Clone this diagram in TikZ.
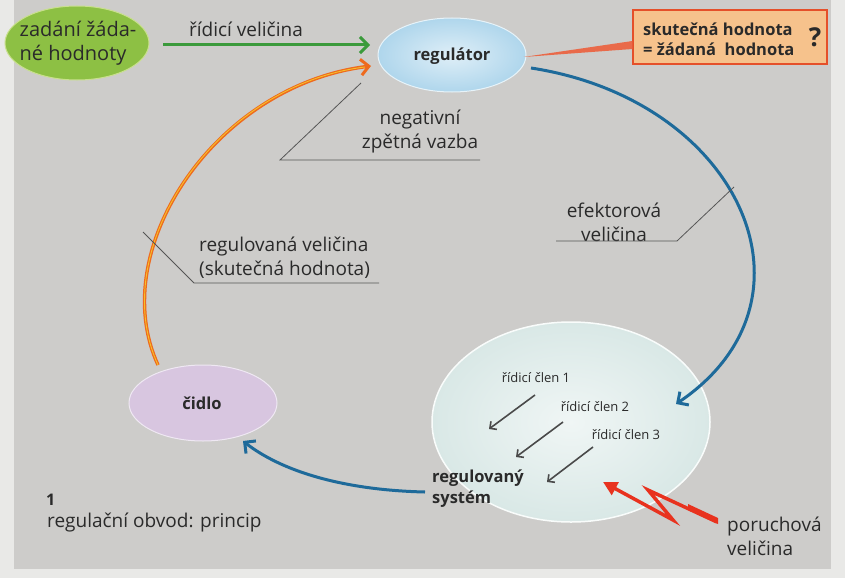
\documentclass[tikz,border=0pt]{standalone}
\usepackage{fontspec}
\setmainfont{Open Sans}
\usetikzlibrary{shapes.geometric,arrows.meta,calc}
\definecolor{bggray}{HTML}{CDCCCA}
\definecolor{bglight}{HTML}{E9E9E7}
\definecolor{txt}{HTML}{2A2A2A}
\definecolor{grn}{HTML}{8DC044}
\definecolor{grnedge}{HTML}{C9E08E}
\definecolor{grnarrow}{HTML}{3B9A3B}
\definecolor{regblue}{HTML}{AFD6EC}
\definecolor{loopblue}{HTML}{1E6A9A}
\definecolor{orng}{HTML}{EE6A1E}
\definecolor{yel}{HTML}{F6C02A}
\definecolor{lav}{HTML}{D8C6E0}
\definecolor{sysfill}{HTML}{D9E8E6}
\definecolor{boxfill}{HTML}{F6C28C}
\definecolor{boxedge}{HTML}{E5502A}
\definecolor{leader}{HTML}{555555}
\definecolor{bolt}{HTML}{E8321E}
\tikzset{
  lbl/.style={text=txt, font=\fontsize{19}{24}\selectfont, inner sep=0pt, align=left},
  blbl/.style={text=txt, font=\bfseries\fontsize{16.5}{20}\selectfont, inner sep=0pt, align=left},
  small/.style={text=txt, font=\fontsize{13}{16}\selectfont, inner sep=0pt},
  oval/.style={ellipse, inner sep=0pt, line width=1pt},
  leadline/.style={draw=leader, line width=0.8pt},
  loop/.style={draw=loopblue, line width=3pt, -{Straight Barb[length=8pt,width=16pt,line width=3pt]}},
}
\begin{document}
\begin{tikzpicture}[x=1pt,y=-1pt]
\useasboundingbox (0,0) rectangle (845,578);
\fill[bglight] (0,0) rectangle (845,578);
\fill[bggray] (14,0) rectangle (831,569);

% ellipses
\node[oval, draw=grnedge, fill=grn, minimum width=144, minimum height=74] (set) at (77,43) {};
\node[text=txt, font=\fontsize{20}{24}\selectfont, align=left, inner sep=0pt] (settxt) at (78,43) {zadání žáda-\\né hodnoty};

\node[oval, draw=white!70!regblue, inner color=white!60!regblue, outer color=regblue, minimum width=148, minimum height=74] (reg) at (452,55) {};
\node[blbl] (regtxt) at (452,56) {regulátor};

\node[oval, draw=white!60!lav, fill=lav, minimum width=148, minimum height=76] (cid) at (203,403) {};
\node[blbl] (cidtxt) at (202,403) {čidlo};

\node[oval, draw=white!85!sysfill, line width=1.5pt, inner color=white!60!sysfill, outer color=sysfill, minimum width=278, minimum height=200] (sys) at (571,422) {};

% box top right
\node[draw=boxedge, fill=boxfill, line width=1.2pt, minimum width=194, minimum height=54, inner sep=0pt] (box) at (730,37) {};
\node[blbl, anchor=west] (boxtxt) at (643,39) {skutečná hodnota\\= žádaná\ \ hodnota};
\node[text=txt, font=\bfseries\fontsize{26}{26}\selectfont, inner sep=0pt] (q) at (815,37) {?};
\fill[boxedge!85!white] (reg.east) ++(-3,2) -- (box.west |- 0,41) -- (box.west |- 0,49) -- cycle;

% green arrow
\coordinate (gs) at (163,45);
\coordinate (ge) at (370,45);
\draw[grnarrow, line width=3pt, -{Straight Barb[length=8pt,width=16pt,line width=3pt]}] (gs) -- (ge);
\node[lbl] (ridici) at (246,29) {řídicí veličina};

% orange feedback arrow
\coordinate (os) at (158,365);
\coordinate (oe) at (371,66);
\draw[orng, line width=3.4pt, -{Straight Barb[length=8pt,width=16pt,line width=3pt]}] (os) .. controls (105,250) and (215,85) .. (oe);
\draw[yel, line width=0.9pt] (os) .. controls (105,250) and (215,85) .. ($(oe)+(-6,1)$);

% blue arrows
\coordinate (bs) at (531,68);
\coordinate (be) at (676,404);
\draw[loop] (bs) .. controls (740,100) and (830,300) .. (be);
\coordinate (cs) at (425,492);
\coordinate (ce) at (243,441);
\draw[loop] (cs) .. controls (340,490) and (280,470) .. (ce);

% leaders
\node[lbl, align=center] (neg) at (420,132) {negativní\\zpětná vazba};
\coordinate (n1) at (361,83);
\coordinate (n2) at (280,160);
\coordinate (n3) at (480,160);
\draw[leadline] (n1) -- (n2) -- (n3);

\node[lbl, align=center] (efe) at (614,222) {efektorová\\veličina};
\coordinate (e1) at (734,187);
\coordinate (e2) at (677,241);
\coordinate (e3) at (556,241);
\draw[leadline] (e1) -- (e2) -- (e3);

\node[lbl, anchor=west] (regvel) at (199,258) {regulovaná veličina\\(skutečná hodnota)};
\coordinate (r1) at (143,232);
\coordinate (r2) at (194,283);
\coordinate (r3) at (379,283);
\draw[leadline] (r1) -- (r2) -- (r3);

% inside system
\node[small] (c1) at (536,378) {řídicí člen 1};
\node[small] (c2) at (595,407) {řídicí člen 2};
\node[small] (c3) at (626,435) {řídicí člen 3};
\coordinate (a1s) at (535,395); \coordinate (a1e) at (489,429);
\coordinate (a2s) at (563,422); \coordinate (a2e) at (516,457);
\coordinate (a3s) at (593,447); \coordinate (a3e) at (547,482);
\foreach \s/\e in {a1s/a1e,a2s/a2e,a3s/a3e}
  \draw[draw=txt!85!white, line width=1.6pt, -{Straight Barb[length=5pt,width=10pt,line width=1.6pt]}] (\s) -- (\e);
\node[blbl, anchor=west, font=\bfseries\fontsize{16.5}{21}\selectfont] (regsys) at (432,489) {regulovaný\\systém};

% disturbance bolt
\coordinate (z0) at (603,482);
\coordinate (z1) at (673,520);
\coordinate (z2) at (648,490);
\coordinate (z3) at (717,522);
\draw[bolt, line width=3.5pt, line join=miter, -{Triangle[length=14pt,width=14pt]}] (z3) -- (z2) -- (z1) -- (z0);
\fill[bolt] (z3) ++(1,-4) -- ++(-30,-14) -- ++(0,6) -- ++(30,14) -- cycle;
\node[lbl, anchor=west] (por) at (727,536) {poruchová\\veličina};

% caption
\node[text=txt, font=\bfseries\fontsize{16}{18}\selectfont, inner sep=0pt, anchor=west] (num) at (46,500) {1};
\node[lbl, anchor=west] (cap) at (47,522) {regulační obvod: princip};
\end{tikzpicture}
\end{document}
